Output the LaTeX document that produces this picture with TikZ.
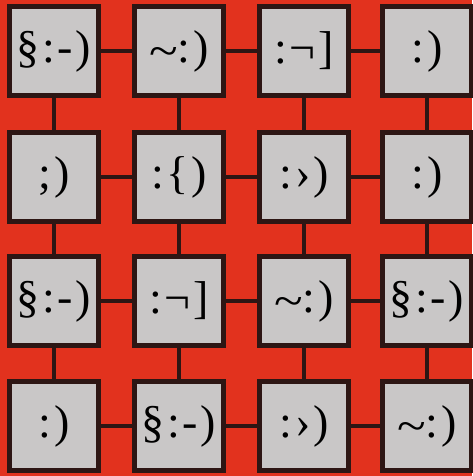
\documentclass[tikz,border=0pt]{standalone}
\usepackage{fontspec}
\setmainfont{Liberation Serif}
\newfontfamily\facefont[LetterSpace=6]{Liberation Serif}
\usetikzlibrary{positioning}
\definecolor{bgred}{RGB}{226,50,30}
\definecolor{boxgray}{RGB}{201,199,199}
\definecolor{edgedark}{RGB}{45,22,20}
\tikzset{
  facebox/.style={draw=edgedark, line width=2.2pt, fill=boxgray, minimum size=44.5pt, inner sep=0pt, font=\facefont\fontsize{23}{27}\selectfont},
  link/.style={draw=edgedark, line width=2pt},
}
\newcommand{\tld}{\raisebox{-0.1em}{\scalebox{1.15}[1]{\textasciitilde}}}
\newcommand{\gt}{›}

\begin{document}
\begin{tikzpicture}[x=0.5pt, y=-0.5pt]
  \fill[bgred] (0,0) rectangle (472,476);
  \useasboundingbox (0,0) rectangle (472,476);

  % row 1
  \node[facebox] (f11) at (54,51)  {§:-)};
  \node[facebox] (f12) at (179,51) {\tld:)};
  \node[facebox] (f13) at (304,51) {:¬]};
  \node[facebox] (f14) at (427,51) {:)};
  % row 2
  \node[facebox] (f21) at (54,177)  {;)};
  \node[facebox] (f22) at (179,177) {:\{)};
  \node[facebox] (f23) at (304,177) {:\gt)};
  \node[facebox] (f24) at (427,177) {:)};
  % row 3
  \node[facebox] (f31) at (54,301)  {§:-)};
  \node[facebox] (f32) at (179,301) {:¬]};
  \node[facebox] (f33) at (304,301) {\tld:)};
  \node[facebox] (f34) at (427,301) {§:-)};
  % row 4
  \node[facebox] (f41) at (54,426)  {:)};
  \node[facebox] (f42) at (179,426) {§:-)};
  \node[facebox] (f43) at (304,426) {:\gt)};
  \node[facebox] (f44) at (427,426) {\tld:)};

  \foreach \r in {1,...,4} {
    \foreach \c/\n in {1/2,2/3,3/4} {
      \draw[link] (f\r\c) -- (f\r\n);
    }
  }
  \foreach \c in {1,...,4} {
    \foreach \r/\n in {1/2,2/3,3/4} {
      \draw[link] (f\r\c) -- (f\n\c);
    }
  }
\end{tikzpicture}
\end{document}
